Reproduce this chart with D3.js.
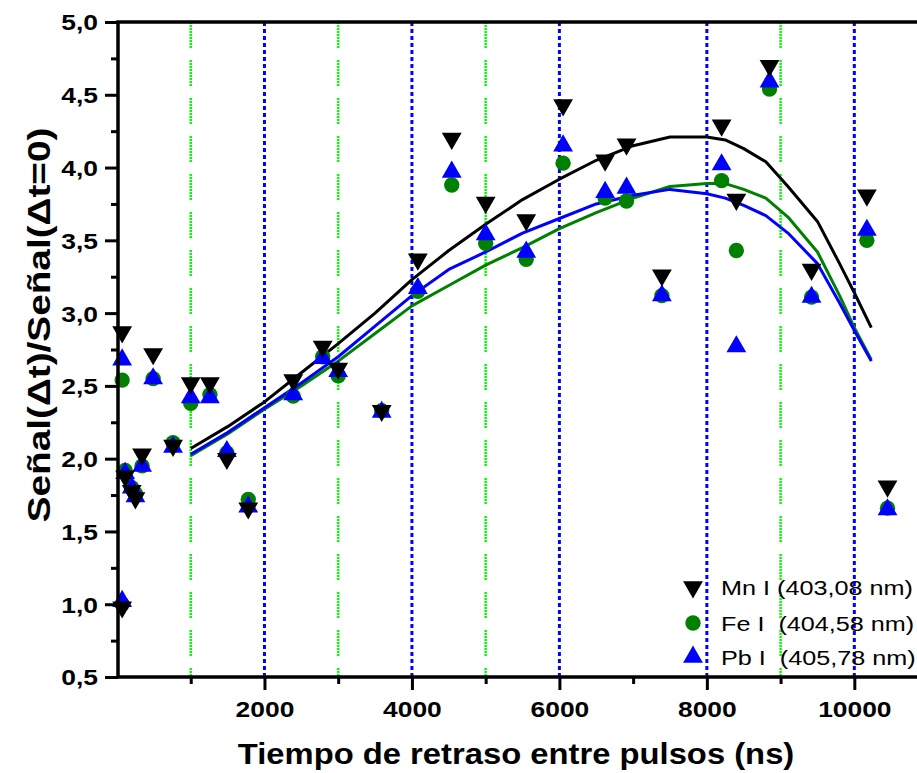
<!DOCTYPE html>
<meta charset="utf-8">
<style>
body { margin: 0; background: #fff; }
text { font-family: "Liberation Sans", Arial, sans-serif; }
</style>
<svg width="917" height="773"></svg>
<script src="https://cdn.jsdelivr.net/npm/d3@7"></script>
<script>

// measured points (delay in ns, normalised signal)
var delays = [70, 70, 110, 200, 250, 340, 490, 760, 1000, 1260, 1490, 1780, 2390, 2790, 3000, 3590,
              4080, 4540, 5000, 5550, 6050, 6620, 6910, 7390, 8200, 8400, 8850, 9420, 10170, 10450];
var mnI = [0.98, 2.87, 1.88, 1.78, 1.73, 2.03, 2.72, 2.09, 2.52, 2.52, 2.00, 1.66, 2.54, 2.77, 2.62, 2.33,
           3.37, 4.20, 3.76, 3.64, 4.43, 4.05, 4.16, 3.26, 4.29, 3.78, 4.70, 3.30, 3.81, 1.81];
var feI = [1.00, 2.54, 1.92, 1.80, 1.76, 1.95, 2.55, 2.11, 2.38, 2.44, 2.04, 1.72, 2.43, 2.70, 2.57, 2.33,
           3.15, 3.88, 3.48, 3.37, 4.03, 3.79, 3.77, 3.12, 3.91, 3.43, 4.54, 3.11, 3.50, 1.66];
var pbI = [1.02, 2.68, 1.90, 1.80, 1.74, 1.95, 2.55, 2.08, 2.42, 2.42, 2.05, 1.67, 2.44, 2.69, 2.60, 2.32,
           3.17, 3.97, 3.54, 3.42, 4.15, 3.83, 3.86, 3.12, 4.02, 2.77, 4.59, 3.11, 3.57, 1.65];

// fitted curves
var fitX  = [1000, 1500, 2000, 2500, 3000, 3500, 4000, 4500, 5000, 5500, 6000, 6500, 7000, 7500,
             8000, 8250, 8500, 8800, 9100, 9500, 9800, 10000, 10230];
var mnFit = [2.07, 2.22, 2.39, 2.59, 2.79, 3.00, 3.23, 3.43, 3.61, 3.78, 3.92, 4.05, 4.15, 4.21,
             4.21, 4.19, 4.13, 4.04, 3.87, 3.63, 3.34, 3.14, 2.90];
var feFit = [2.02, 2.17, 2.34, 2.50, 2.67, 2.86, 3.05, 3.19, 3.33, 3.45, 3.58, 3.69, 3.79, 3.87,
             3.89, 3.89, 3.85, 3.79, 3.66, 3.42, 3.12, 2.90, 2.68];
var pbFit = [2.03, 2.18, 2.35, 2.52, 2.70, 2.91, 3.12, 3.30, 3.42, 3.55, 3.65, 3.75, 3.81, 3.85,
             3.82, 3.79, 3.74, 3.67, 3.55, 3.34, 3.07, 2.88, 2.67];

var xMajor = [2000, 4000, 6000, 8000, 10000];
var xMinor = [1000, 3000, 5000, 7000, 9000];
var yMajor = [0.5, 1.0, 1.5, 2.0, 2.5, 3.0, 3.5, 4.0, 4.5, 5.0];
var yMinor = [0.75, 1.25, 1.75, 2.25, 2.75, 3.25, 3.75, 4.25, 4.75];
var gridGreen = [1000, 3000, 5000, 9000];
var gridBlue = [2000, 4000, 6000, 8000, 10000];

var legendLabels = ["Mn I (403,08 nm)", "Fe I  (404,58 nm)", "Pb I  (405,78 nm)"];

var svg = d3.select("svg"),
    pLeft = 118, pTop = 22, pRight = 917, pBottom = 677;

var x = d3.scaleLinear().domain([0, 10850]).range([117, 917]);
var y = d3.scaleLinear().domain([0.5, 5]).range([pBottom, pTop]);

var comma = function(v) { return d3.format(".1f")(v).replace(".", ","); };
var sx = 1.2; // the original lettering is stretched sideways

// grid lines
svg.append("g").selectAll("line").data(gridGreen).enter().append("line")
    .attr("x1", d => x(d)).attr("x2", d => x(d))
    .attr("y1", pTop).attr("y2", pBottom)
    .attr("stroke", "#00ff00").attr("stroke-width", 2.5)
    .attr("stroke-dasharray", "2,1,2,1,2,1,2,1,2,1,2,1,2,1,2,1,2,12");
svg.append("g").selectAll("line").data(gridBlue).enter().append("line")
    .attr("x1", d => x(d)).attr("x2", d => x(d))
    .attr("y1", pTop).attr("y2", pBottom)
    .attr("stroke", "#0000ff").attr("stroke-width", 3)
    .attr("stroke-dasharray", "4,3");

// fitted curves
var line = d3.line()
    .x(function(d) { return x(d[0]); })
    .y(function(d) { return y(d[1]); });

[[feFit, "#008000"], [pbFit, "#0000ff"], [mnFit, "#000000"]].forEach(function(c) {
  svg.append("path")
    .datum(fitX.map(function(v, i) { return [v, c[0][i]]; }))
    .attr("fill", "none")
    .attr("stroke", c[1])
    .attr("stroke-width", 3)
    .attr("stroke-linejoin", "round")
    .attr("d", line);
});

// markers
var upTri = d3.symbol().type(d3.symbolTriangle).size(170)();
var circle = d3.symbol().type(d3.symbolCircle).size(185)();

function drawSeries(vals, path, color, rot) {
  svg.append("g").selectAll("path").data(vals).enter().append("path")
    .attr("d", path)
    .attr("fill", color)
    .attr("transform", function(d, i) {
      return "translate(" + x(delays[i]) + "," + y(d) + ")" + (rot ? " rotate(180)" : "");
    });
}
drawSeries(feI, circle, "#008000", false);
drawSeries(pbI, upTri, "#0000ff", false);
drawSeries(mnI, upTri, "#000000", true);

// axes
var yAxis = svg.append("g")
    .attr("transform", "translate(" + pLeft + ",0)")
    .call(d3.axisLeft(y).tickValues(yMajor).tickSize(13).tickPadding(0).tickFormat(comma));
yAxis.selectAll("text")
    .attr("x", -20 / sx)
    .attr("dy", "0.36em")
    .attr("transform", "scale(" + sx + ",1)")
    .style("font-size", "22px").style("font-weight", "bold").style("font-family", "Liberation Sans, Arial");
svg.append("g")
    .attr("transform", "translate(" + pLeft + ",0)")
    .call(d3.axisLeft(y).tickValues(yMinor).tickSize(7).tickFormat(""));

var xAxis = svg.append("g")
    .attr("transform", "translate(0," + pBottom + ")")
    .call(d3.axisBottom(x).tickValues(xMajor).tickSize(13).tickPadding(0).tickFormat(d3.format("d")));
xAxis.selectAll("text")
    .attr("y", 24)
    .attr("transform", "scale(" + sx + ",1)")
    .style("font-size", "22px").style("font-weight", "bold").style("font-family", "Liberation Sans, Arial");
svg.append("g")
    .attr("transform", "translate(0," + pBottom + ")")
    .call(d3.axisBottom(x).tickValues(xMinor).tickSize(7).tickFormat(""));

svg.selectAll(".domain").remove();
svg.selectAll(".tick line").attr("stroke", "#000").attr("stroke-width", 3);

// frame
svg.append("path")
    .attr("d", "M" + pRight + "," + pTop + "H" + pLeft + "V" + pBottom + "H" + pRight)
    .attr("fill", "none").attr("stroke", "#000").attr("stroke-width", 3.5);

// axis titles
svg.append("text")
    .attr("transform", "translate(516,764) scale(1.13,1)")
    .attr("text-anchor", "middle")
    .style("font-size", "29px").style("font-weight", "bold")
    .text("Tiempo de retraso entre pulsos (ns)");

svg.append("text")
    .attr("transform", "translate(50,325) rotate(-90) scale(1.25,1)")
    .attr("text-anchor", "middle")
    .style("font-size", "31px").style("font-weight", "bold")
    .text("Señal(Δt)/Señal(Δt=0)");

// legend
var legend = svg.append("g");
var legendSyms = [[upTri, "#000000", true], [circle, "#008000", false], [upTri, "#0000ff", false]];
var legendY = [587, 623, 657];
legendLabels.forEach(function(lbl, i) {
  legend.append("path")
    .attr("d", legendSyms[i][0])
    .attr("fill", legendSyms[i][1])
    .attr("transform", "translate(693," + legendY[i] + ")" + (legendSyms[i][2] ? " rotate(180)" : ""));
  legend.append("text")
    .attr("transform", "translate(721," + (legendY[i] + 8) + ") scale(1.2,1)")
    .style("font-size", "21px")
    .style("white-space", "pre")
    .attr("xml:space", "preserve")
    .text(lbl);
});

</script>
